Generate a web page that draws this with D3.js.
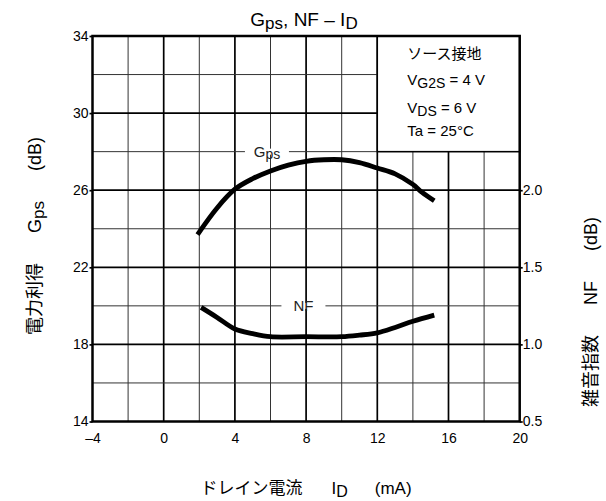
<!DOCTYPE html>
<html>
<head>
<meta charset="utf-8">
<script src="https://cdn.jsdelivr.net/npm/d3@7"></script>
<style>
  body { margin: 0; background: #fff; }
  svg { font-family: "Liberation Sans", Arial, "Noto Sans CJK JP", sans-serif; }
  .jp { font-family: "Noto Sans CJK JP", sans-serif; }
</style>
</head>
<body>
<svg id="chart" width="606" height="501"></svg>
<script>
// drain current (mA) vs power gain (dB)
var gpsCurrent = [1.9, 3, 4, 5, 6, 7, 8, 9, 10, 11, 12, 13, 14, 14.5, 15.2];
var gpsGain    = [23.7, 25.08, 26.05, 26.6, 27.0, 27.3, 27.5, 27.58, 27.58, 27.43, 27.15, 26.85, 26.3, 25.9, 25.45];

// drain current (mA) vs noise figure (dB, right axis)
var nfCurrent = [2.1, 3, 4, 5, 6, 8, 10, 11, 12, 13, 14, 15.2];
var nfValue   = [1.24, 1.175, 1.1, 1.07, 1.05, 1.05, 1.05, 1.06, 1.075, 1.11, 1.15, 1.19];

var xTicks = [-4, 0, 4, 8, 12, 16, 20];
var yTicks = [14, 18, 22, 26, 30, 34];
var nfTicks = [0.5, 1.0, 1.5, 2.0];

var conditions = ["ソース接地", ["V", "G2S", " = 4 V"], ["V", "DS", " = 6 V"], "Ta = 25°C"];

var svg = d3.select('#chart'),
    margin = {top: 36, right: 86.3, bottom: 79.5, left: 92.5},
    width = +svg.attr("width") - margin.left - margin.right,
    height = +svg.attr("height") - margin.top - margin.bottom,
    g = svg.append("g").attr("transform", "translate(" + margin.left + "," + margin.top + ")");

var x = d3.scaleLinear().domain([-4, 20]).range([0, width]);
var y = d3.scaleLinear().domain([14, 34]).range([height, 0]);
var yNF = d3.scaleLinear().domain([0.5, 3.0]).range([height, 0]);

// grid
var gridX = d3.range(-4, 21, 2), gridY = d3.range(14, 35, 2);
g.selectAll(".vgrid").data(gridX.slice(1, -1)).enter().append("line")
    .attr("x1", x).attr("x2", x).attr("y1", 0).attr("y2", height)
    .attr("stroke", function(d) { return d % 4 == 0 ? "#000" : "#333"; })
    .attr("stroke-width", function(d) { return d % 4 == 0 ? 1.7 : 1; });
g.selectAll(".hgrid").data(gridY.slice(1, -1)).enter().append("line")
    .attr("y1", y).attr("y2", y).attr("x1", 0).attr("x2", width)
    .attr("stroke", function(d) { return (d - 14) % 4 == 0 ? "#000" : "#333"; })
    .attr("stroke-width", function(d) { return (d - 14) % 4 == 0 ? 1.7 : 1; });

// conditions box
g.append("rect")
    .attr("x", x(12)).attr("y", y(34))
    .attr("width", x(20) - x(12)).attr("height", y(28) - y(34))
    .attr("fill", "#fff").attr("stroke", "#000").attr("stroke-width", 1.5);

var cond = g.append("g").attr("font-size", 15);
conditions.forEach(function(c, i) {
    var t = cond.append("text")
        .attr("x", x(12) + 30).attr("y", [23, 49, 77, 100][i]);
    if (typeof c == "string") {
        t.text(c);
    } else {
        t.append("tspan").text(c[0]);
        t.append("tspan").attr("dy", 3).attr("font-size", 14).text(c[1]);
        t.append("tspan").attr("dy", -3).text(c[2]);
    }
});

// frame
g.append("rect").attr("width", width).attr("height", height)
    .attr("fill", "none").attr("stroke", "#000").attr("stroke-width", 2.5);

// axes
var fmt = function(d) { return d < 0 ? "–" + Math.abs(d) : d; };
var ax = g.append("g").attr("transform", "translate(0," + height + ")")
    .call(d3.axisBottom(x).tickValues(xTicks).tickSize(0).tickPadding(12).tickFormat(fmt));
var ay = g.append("g")
    .call(d3.axisLeft(y).tickValues(yTicks).tickSize(3).tickPadding(1));
var ar = g.append("g").attr("transform", "translate(" + width + ",0)")
    .call(d3.axisRight(yNF).tickValues(nfTicks).tickSize(3).tickPadding(0).tickFormat(d3.format(".1f")));
[ax, ay, ar].forEach(function(a) {
    a.select(".domain").remove();
    a.selectAll("text").attr("font-size", 14).attr("fill", "#000");
    a.selectAll("line").attr("stroke", "#000").attr("stroke-width", 1.7);
    a.attr("font-family", null);
});

// curves
var lineGps = d3.line()
    .x(function(d, i) { return x(gpsCurrent[i]); })
    .y(function(d) { return y(d); })
    .curve(d3.curveCatmullRom.alpha(0.5));
var lineNF = d3.line()
    .x(function(d, i) { return x(nfCurrent[i]); })
    .y(function(d) { return yNF(d); })
    .curve(d3.curveCatmullRom.alpha(0.5));

g.append("path").datum(gpsGain).attr("d", lineGps)
    .attr("fill", "none").attr("stroke", "#000").attr("stroke-width", 4.8);
g.append("path").datum(nfValue).attr("d", lineNF)
    .attr("fill", "none").attr("stroke", "#000").attr("stroke-width", 4.8);

// curve labels on gridlines
function curveLabel(cx, cy, main, sub) {
    var lg = g.append("g");
    lg.append("rect").attr("x", x(cx) - 22).attr("y", y(cy) - 3).attr("width", 44).attr("height", 6).attr("fill", "#fff");
    var t = lg.append("text").attr("x", x(cx)).attr("y", y(cy) + 5)
        .attr("text-anchor", "middle").attr("font-size", 15).attr("fill", "#222");
    t.append("tspan").text(main);
    if (sub) t.append("tspan").attr("dy", 2).attr("font-size", 14).text(sub);
}
curveLabel(5.8, 28, "G", "ps");
curveLabel(7.85, 20, "NF");

// title
var title = svg.append("text").attr("x", 304).attr("y", 26)
    .attr("text-anchor", "middle").attr("font-size", 19);
title.append("tspan").text("G");
title.append("tspan").attr("dy", 3).attr("font-size", 17).text("ps");
title.append("tspan").attr("dy", -3).text(", NF – I");
title.append("tspan").attr("dy", 3).attr("font-size", 17).text("D");

// axis titles
var xt = svg.append("text").attr("x", 306).attr("y", 494)
    .attr("text-anchor", "middle").attr("font-size", 17);
xt.append("tspan").attr("class", "jp").text("ドレイン電流");
xt.append("tspan").attr("dx", 29).text("I");
xt.append("tspan").attr("dy", 3).attr("font-size", 16).text("D");
xt.append("tspan").attr("dy", -3).attr("dx", 27).text("(mA)");

var yt = svg.append("text").attr("transform", "translate(41,236) rotate(-90)")
    .attr("text-anchor", "middle").attr("font-size", 18);
yt.append("tspan").attr("class", "jp").text("電力利得");
yt.append("tspan").attr("dx", 30).text("G");
yt.append("tspan").attr("dy", 3).attr("font-size", 17).text("ps");
yt.append("tspan").attr("dy", -3).attr("dx", 30).text("(dB)");

var rt = svg.append("text").attr("transform", "translate(597,312) rotate(-90)")
    .attr("text-anchor", "middle").attr("font-size", 18);
rt.append("tspan").attr("class", "jp").text("雑音指数");
rt.append("tspan").attr("dx", 30).text("NF");
rt.append("tspan").attr("dx", 30).text("(dB)");
</script>
</body>
</html>
